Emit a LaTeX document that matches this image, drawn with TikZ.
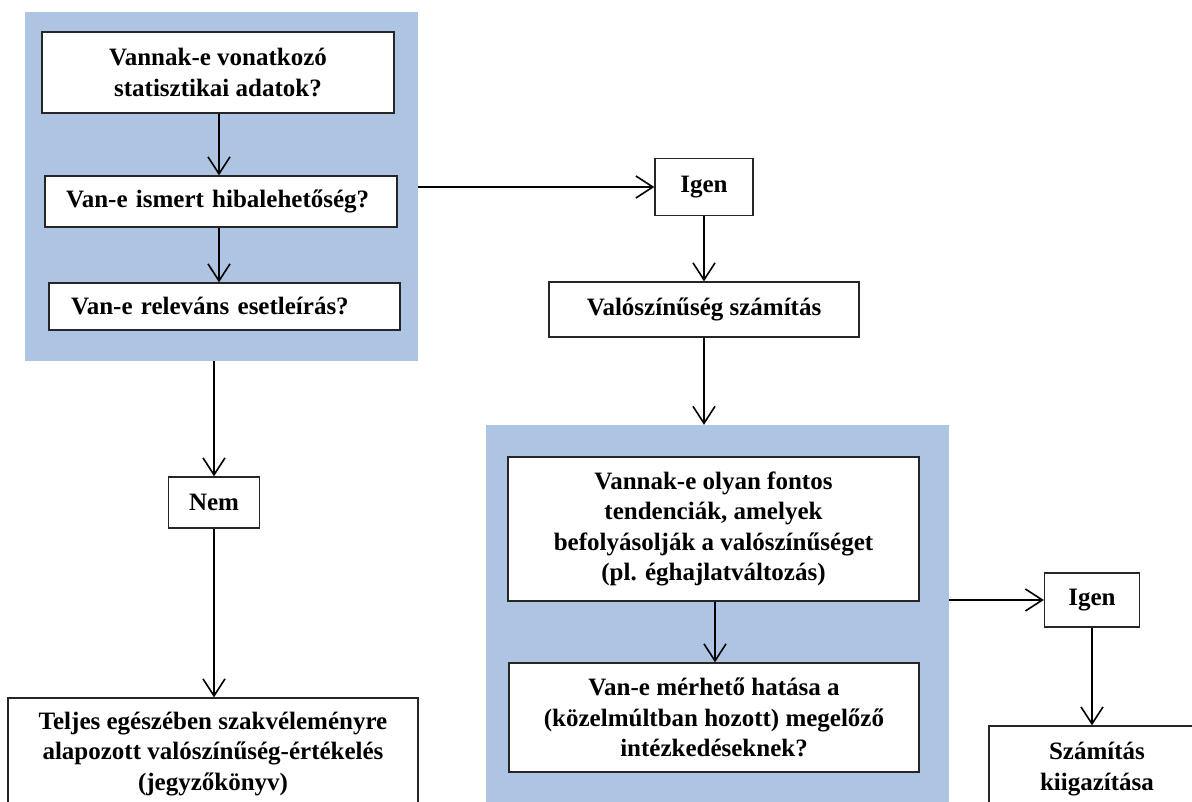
\documentclass[tikz,border=0pt]{standalone}
\usepackage{fontspec}
\setmainfont{Liberation Serif}
\usetikzlibrary{arrows.meta}
\definecolor{panelblue}{RGB}{173,197,226}
\tikzset{
  box/.style={draw=black!85, line width=1.3pt, fill=white, inner sep=0pt, align=center,
    font=\fontsize{25}{30.5}\selectfont\bfseries},
  panel/.style={fill=panelblue, draw=none, inner sep=0pt},
  conn/.style={line width=1.6pt, -{Straight Barb[length=17pt,width=22pt,line width=1.6pt]}}
}
\begin{document}
\begin{tikzpicture}[x=1pt,y=-1pt]
\clip (0,0) rectangle (1192,802);
\fill[white] (0,0) rectangle (1192,802);
% panels
\node[panel, minimum width=393pt, minimum height=349pt] (p1) at (221.5,186.5) {};
\node[panel, minimum width=463pt, minimum height=390pt] (p2) at (717.5,620) {};
% left column
\node[box, minimum width=352pt, minimum height=81pt] (a1) at (218,72.5) {Vannak-e vonatkozó\\statisztikai adatok?};
\node[box, minimum width=352pt, minimum height=51pt, text width=310pt, inner xsep=21pt, align=left] (a2) at (221,201.5) {Van-e ismert hibalehetőség?};
\node[box, minimum width=351pt, minimum height=47pt, text width=307pt, inner xsep=22pt, align=left] (a3) at (224.5,306.5) {Van-e releváns esetleírás?};
\node[box, minimum width=91pt, minimum height=51pt] (nem) at (214,502.5) {Nem};
\node[box, minimum width=410pt, minimum height=112pt] (a4) at (213,754) {Teljes egészében szakvéleményre\\alapozott valószínűség-értékelés\\(jegyzőkönyv)};
% middle column
\node[box, minimum width=98pt, minimum height=57pt] (i1) at (704,187) {Igen};
\node[box, minimum width=310pt, minimum height=55pt] (v) at (704,309.5) {Valószínűség számítás};
\node[box, minimum width=411pt, minimum height=144pt] (b1) at (713.5,529) {Vannak-e olyan fontos\\tendenciák, amelyek\\befolyásolják a valószínűséget\\(pl. éghajlatváltozás)};
\node[box, minimum width=410pt, minimum height=109pt] (b2) at (714,717.5) {Van-e mérhető hatása a\\(közelmúltban hozott) megelőző\\intézkedéseknek?};
% right column
\node[box, minimum width=95pt, minimum height=54pt] (i2) at (1092,600) {Igen};
\node[box, minimum width=216pt, minimum height=86pt] (sz) at (1097,769) {Számítás\\kiigazítása};
% connectors
\draw[conn] (a1.south -| 219,0) -- (a2.north -| 219,0);
\draw[conn] (a2.south -| 219,0) -- (a3.north -| 219,0);
\draw[conn] (p1.east |- i1) -- (i1.west);
\draw[conn] (p1.south -| nem) -- (nem.north);
\draw[conn] (nem.south) -- (a4.north -| nem);
\draw[conn] (i1.south) -- (v.north -| i1);
\draw[conn] (v.south -| i1) -- (p2.north -| i1);
\draw[conn] (b1.south -| 715,0) -- (b2.north -| 715,0);
\draw[conn] (p2.east |- i2) -- (i2.west);
\draw[conn] (i2.south) -- (sz.north -| i2);
\end{tikzpicture}
\end{document}
